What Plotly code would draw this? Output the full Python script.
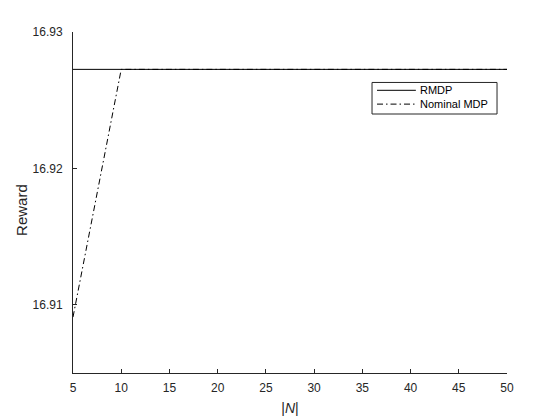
import plotly.graph_objects as go

# |N| values and rewards
n_values = [5, 10, 15, 20, 25, 30, 35, 40, 45, 50]
rmdp_reward = [16.92726] * 10
nominal_reward = [16.9091, 16.92726, 16.92726, 16.92726, 16.92726,
                  16.92726, 16.92726, 16.92726, 16.92726, 16.92726]
series_names = ["RMDP", "Nominal MDP"]
x_ticks = [5, 10, 15, 20, 25, 30, 35, 40, 45, 50]
y_ticks = [16.91, 16.92, 16.93]

font = "Liberation Sans, Arial, sans-serif"
dark = "#262626"
dashes = ["solid", "6px,3px,1.5px,3px"]

fig = go.Figure()
for name, ys, dash in zip(series_names, [rmdp_reward, nominal_reward], dashes):
    fig.add_trace(go.Scatter(x=n_values, y=ys, mode="lines", name=name, showlegend=False,
                             line=dict(color="black", width=1, dash=dash)))

axis_common = dict(showline=True, linecolor=dark, linewidth=1, ticks="inside",
                   ticklen=4, tickcolor=dark, showgrid=False, zeroline=False,
                   mirror=False, automargin=False,
                   tickfont=dict(family=font, size=12, color=dark))

fig.update_xaxes(range=[5, 50], tickvals=x_ticks, ticklabelstandoff=4, **axis_common,
                 title=dict(text="|<i>N</i>|", font=dict(family=font, size=14, color=dark),
                            standoff=8))
fig.update_yaxes(range=[16.905, 16.93], tickvals=y_ticks, tickformat=".2f",
                 ticklabelstandoff=7, **axis_common)

# y label as an annotation so it can sit closer to the tick labels
fig.add_annotation(text="Reward", x=-0.12, y=0.478, xref="paper", yref="paper",
                   textangle=-90, showarrow=False, xanchor="center", yanchor="middle",
                   font=dict(family=font, size=15, color=dark))

# MATLAB-style legend box drawn by hand (Plotly's legend rows are too tall)
fig.add_shape(type="rect", xref="paper", yref="paper", x0=0.689, x1=0.977, y0=0.7595, y1=0.852,
              line=dict(color=dark, width=1), fillcolor="white", layer="above")
for i, (name, dash) in enumerate(zip(series_names, dashes)):
    yy = 0.829 - i * 0.0405
    fig.add_shape(type="line", xref="paper", yref="paper", x0=0.7005, x1=0.79, y0=yy, y1=yy,
                  line=dict(color="black", width=1, dash=dash), layer="above")
    fig.add_annotation(x=0.795, y=yy, xref="paper", yref="paper", text=name, showarrow=False,
                       xanchor="left", yanchor="middle",
                       font=dict(family=font, size=11, color="black"))

fig.update_layout(
    width=560, height=420,
    margin=dict(l=73, r=53, t=32, b=47),
    plot_bgcolor="white", paper_bgcolor="white",
    font=dict(family=font, color=dark),
)

# drop the default 8px body margin so the figure sits at the window's corner
fig.write_html("out.html", config={"displayModeBar": False},
               post_script="document.body.style.margin='0';")
